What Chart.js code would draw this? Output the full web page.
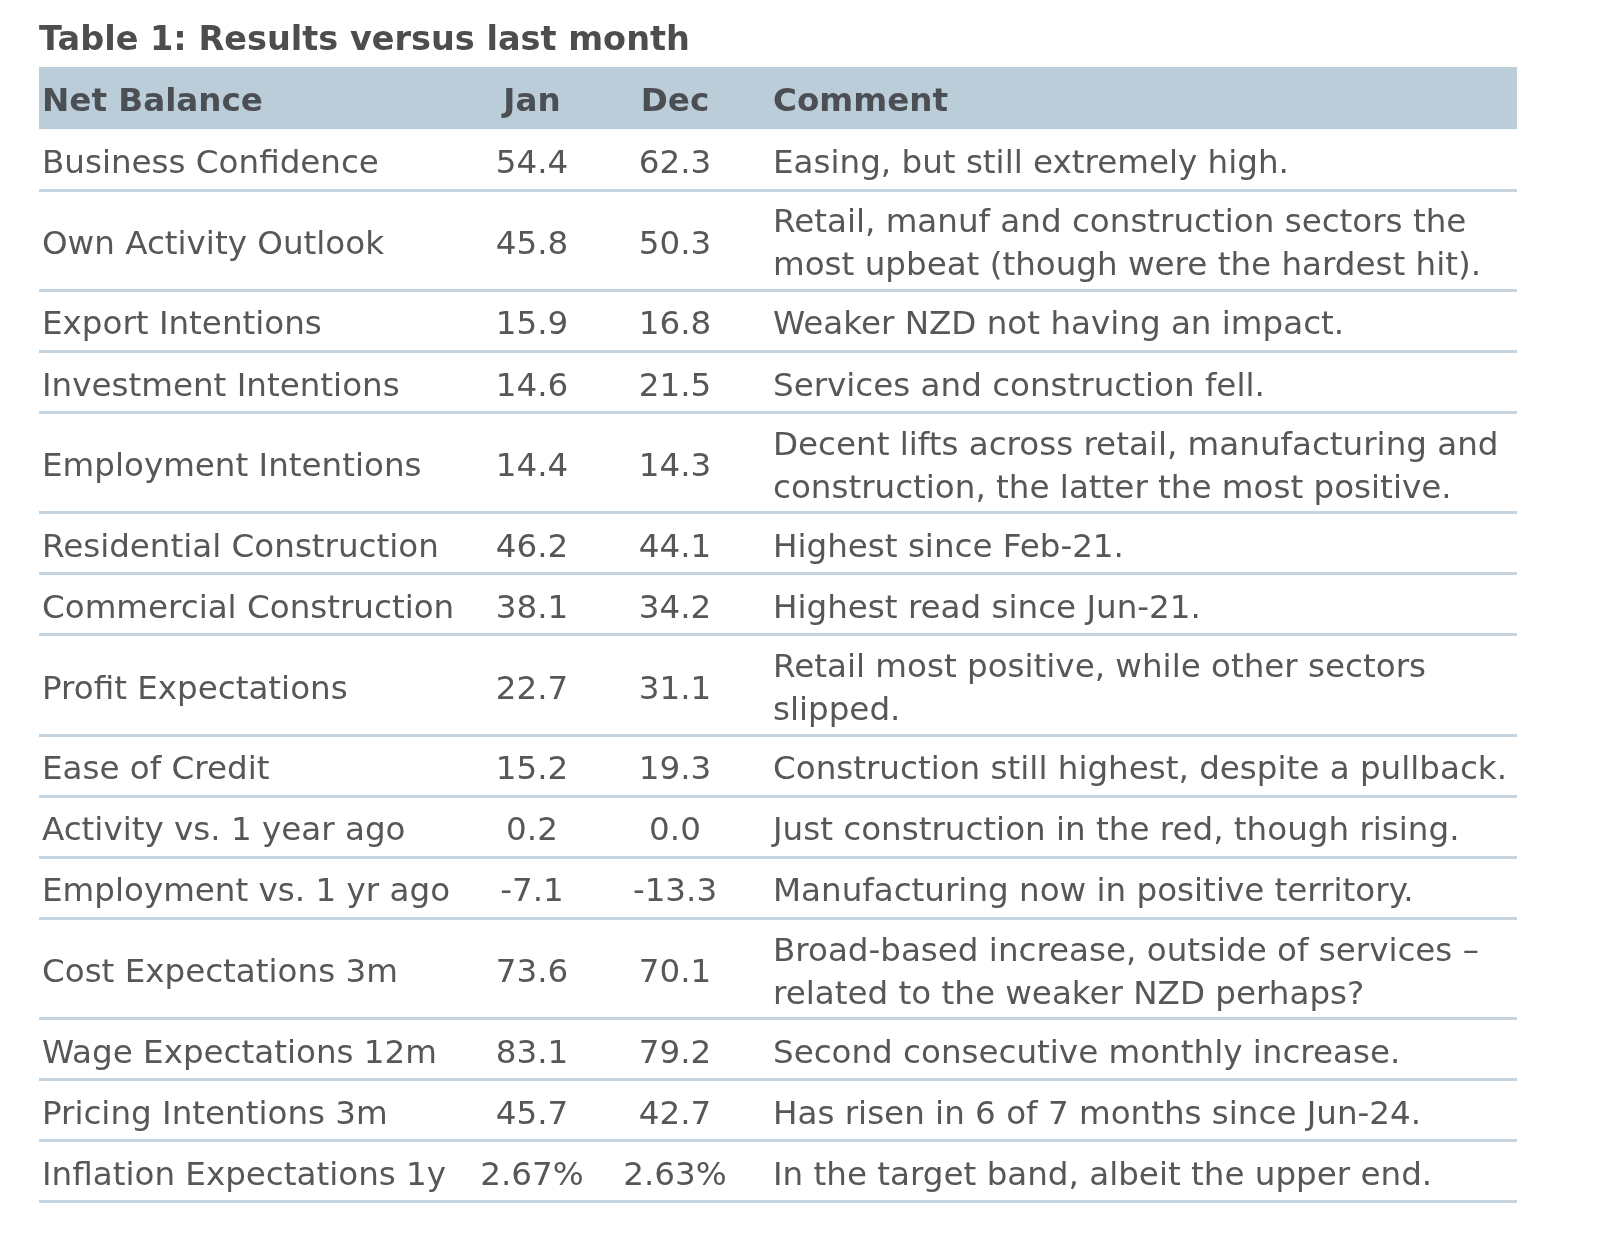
<!DOCTYPE html>
<html>
<head>
<meta charset="utf-8">
<title>Table 1: Results versus last month</title>
<script src="https://cdn.jsdelivr.net/npm/chart.js@4.4.1/dist/chart.umd.min.js"></script>
<style>
  html, body { margin: 0; padding: 0; background: #fff; }
</style>
</head>
<body>
<canvas id="table" width="1612" height="1238"></canvas>
<script>
const titleText = 'Table 1: Results versus last month';
const columnHeaders = ['Net Balance', 'Jan', 'Dec', 'Comment'];

const rowNames = [
    'Business Confidence', 'Own Activity Outlook', 'Export Intentions', 'Investment Intentions',
    'Employment Intentions', 'Residential Construction', 'Commercial Construction', 'Profit Expectations',
    'Ease of Credit', 'Activity vs. 1 year ago', 'Employment vs. 1 yr ago', 'Cost Expectations 3m',
    'Wage Expectations 12m', 'Pricing Intentions 3m', 'Inflation Expectations 1y'
];
const janValues = [54.4, 45.8, 15.9, 14.6, 14.4, 46.2, 38.1, 22.7, 15.2, 0.2, -7.1, 73.6, 83.1, 45.7, 2.67];
const decValues = [62.3, 50.3, 16.8, 21.5, 14.3, 44.1, 34.2, 31.1, 19.3, 0.0, -13.3, 70.1, 79.2, 42.7, 2.63];
const valueUnits = ['', '', '', '', '', '', '', '', '', '', '', '', '', '', '%'];
const comments = [
    ['Easing, but still extremely high.'],
    ['Retail, manuf and construction sectors the', 'most upbeat (though were the hardest hit).'],
    ['Weaker NZD not having an impact.'],
    ['Services and construction fell.'],
    ['Decent lifts across retail, manufacturing and', 'construction, the latter the most positive.'],
    ['Highest since Feb-21.'],
    ['Highest read since Jun-21.'],
    ['Retail most positive, while other sectors', 'slipped.'],
    ['Construction still highest, despite a pullback.'],
    ['Just construction in the red, though rising.'],
    ['Manufacturing now in positive territory.'],
    ['Broad-based increase, outside of services \u2013', 'related to the weaker NZD perhaps?'],
    ['Second consecutive monthly increase.'],
    ['Has risen in 6 of 7 months since Jun-24.'],
    ['In the target band, albeit the upper end.']
];

// layout
const FAMILY = '"DejaVu Sans", Verdana, sans-serif';
const TABLE_W = 1478;
const HEADER_H = 62;
const ROW_H = 61;        // single-line row
const LINE_STEP = 39;    // extra height per extra comment line
const TEXT_LEAD = 43;    // line spacing inside a cell
const TEXT_DY = 5;       // nudge, canvas 'middle' sits a bit high for this font
const COL_X = [3, 493, 636, 734];
const COL_ALIGN = ['left', 'center', 'center', 'left'];
const HEADER_BG = '#bccdda';
const LINE_COLOR = '#c6d4df';
const BODY_COLOR = '#575757';
const HEAD_COLOR = '#4b4f54';

const measure = document.createElement('canvas').getContext('2d');
function fitSize(text, weight, target) {
    measure.font = `${weight} 100px ${FAMILY}`;
    return 100 * target / measure.measureText(text).width;
}
const bodySize = fitSize('Business Confidence', 'normal', 337);
const headSize = fitSize('Net Balance', 'bold', 221);
const titleSize = fitSize(titleText, 'bold', 651);

// row geometry (in table units, 1 unit = 1px)
const rowTops = [];
const rowCenters = [];
let pos = HEADER_H;
comments.forEach(lines => {
    const h = ROW_H + LINE_STEP * (lines.length - 1);
    rowTops.push(pos);
    rowCenters.push(pos + h / 2);
    pos += h;
});
const rowBottoms = rowTops.map((t, i) => rowTops[i + 1] !== undefined ? rowTops[i + 1] : pos);
const TOTAL_H = pos;

function fmt(v, unit) {
    return unit === '%' ? v.toFixed(2) + '%' : v.toFixed(1);
}

const cellColumns = [
    rowNames.map(n => [n]),
    janValues.map((v, i) => [fmt(v, valueUnits[i])]),
    decValues.map((v, i) => [fmt(v, valueUnits[i])]),
    comments
];

const datasets = columnHeaders.map((label, c) => ({
    label: label,
    data: rowCenters.map(y => ({ x: COL_X[c], y: y })),
    cellText: cellColumns[c],
    cellAlign: COL_ALIGN[c],
    pointRadius: 0,
    pointHoverRadius: 0
}));
datasets.push({
    label: 'header',
    data: COL_X.map(x => ({ x: x, y: HEADER_H / 2 })),
    cellText: columnHeaders.map(h => [h]),
    cellAlign: COL_ALIGN,
    isHeader: true,
    pointRadius: 0,
    pointHoverRadius: 0
});

const tablePlugin = {
    id: 'tableCells',
    beforeDatasetsDraw(chart) {
        const { ctx, scales: { x, y } } = chart;
        const left = x.getPixelForValue(0), right = x.getPixelForValue(TABLE_W);
        const top = y.getPixelForValue(0), bottom = y.getPixelForValue(HEADER_H);
        ctx.save();
        ctx.fillStyle = HEADER_BG;
        ctx.fillRect(left, top, right - left, bottom - top);
        ctx.restore();
    },
    afterDatasetsDraw(chart) {
        const ctx = chart.ctx;
        chart.data.datasets.forEach((ds, d) => {
            const meta = chart.getDatasetMeta(d);
            ctx.save();
            ctx.textBaseline = 'middle';
            let nudge = TEXT_DY;
            if (ds.isHeader) {
                ctx.font = `bold ${headSize}px ${FAMILY}`;
                ctx.fillStyle = HEAD_COLOR;
                nudge = 4;
            } else {
                ctx.font = `${bodySize}px ${FAMILY}`;
                ctx.fillStyle = BODY_COLOR;
            }
            meta.data.forEach((pt, i) => {
                const lines = ds.cellText[i];
                ctx.textAlign = Array.isArray(ds.cellAlign) ? ds.cellAlign[i] : ds.cellAlign;
                lines.forEach((line, k) => {
                    const dy = (k - (lines.length - 1) / 2) * TEXT_LEAD;
                    ctx.fillText(line, pt.x, pt.y + dy + nudge);
                });
            });
            ctx.restore();
        });
    }
};

const titleLine = titleSize * 1.2;
const titleTop = 41 - titleLine / 2;

new Chart(document.getElementById('table'), {
    type: 'scatter',
    data: { datasets: datasets },
    options: {
        responsive: false,
        animation: false,
        devicePixelRatio: 1,
        events: [],
        layout: { padding: { left: 39, right: 95, top: 0, bottom: 34 } },
        plugins: {
            legend: { display: false },
            tooltip: { enabled: false },
            title: {
                display: true,
                text: titleText,
                align: 'start',
                color: '#4d4d4d',
                font: { family: FAMILY, size: titleSize, weight: 'bold', lineHeight: 1.2 },
                padding: { top: titleTop, bottom: 67 - titleTop - titleLine }
            }
        },
        scales: {
            x: { type: 'linear', display: false, min: 0, max: TABLE_W },
            y: {
                type: 'linear',
                reverse: true,
                min: 0,
                max: TOTAL_H + 2,
                afterBuildTicks: scale => { scale.ticks = rowBottoms.map(v => ({ value: v })); },
                ticks: { display: false },
                border: { display: false },
                grid: { color: LINE_COLOR, lineWidth: 3, drawTicks: false }
            }
        }
    },
    plugins: [tablePlugin]
});
</script>
</body>
</html>
